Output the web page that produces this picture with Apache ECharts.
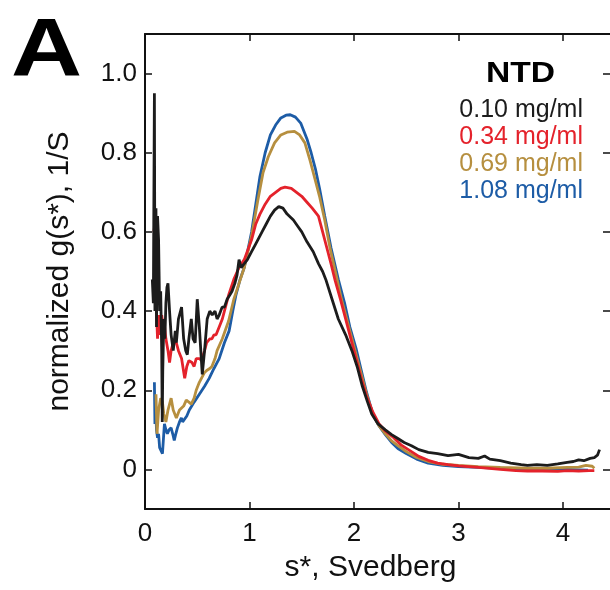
<!DOCTYPE html>
<html>
<head>
<meta charset="utf-8">
<script src="https://cdn.jsdelivr.net/npm/echarts@6/dist/echarts.min.js"></script>
<style>
  html, body { margin: 0; padding: 0; background: #fff; }
  #chartA { width: 610px; height: 590px; }
</style>
</head>
<body>
<div id="chartA"></div>
<script>
// tick positions
var xTicks = [0, 1, 2, 3, 4];
var yTicks = [0, 0.2, 0.4, 0.6, 0.8, 1.0];

var seriesNames = ['0.10 mg/ml', '0.34 mg/ml', '0.69 mg/ml', '1.08 mg/ml'];
var seriesColors = ['#1c1c1c', '#e4222b', '#b68f3f', '#1d5ca6'];

// 0.10 mg/ml (black)
var s010 = [0.07,0.08,0.09,0.095,0.10,0.105,0.11,0.12,0.13,0.14,0.15,0.16,0.165,0.17,0.18,0.19,0.20,0.21,0.22,0.235,
  0.25,0.27,0.29,0.30,0.32,0.35,0.37,0.39,0.405,0.42,0.443,0.46,0.48,0.50,0.52,0.548,0.57,0.595,0.62,0.643,
  0.67,0.69,0.71,0.738,0.76,0.786,0.81,0.833,0.86,0.88,0.90,0.92,0.95,0.98,1.02,1.06,1.12,1.16,1.20,1.24,
  1.28,1.32,1.36,1.42,1.46,1.50,1.55,1.61,1.66,1.70,1.73,1.79,1.85,1.92,1.98,2.03,2.08,2.13,2.17,2.23,
  2.30,2.36,2.42,2.48,2.55,2.62,2.71,2.80,2.90,3.00,3.10,3.19,3.25,3.30,3.40,3.50,3.60,3.66,3.75,3.85,
  3.95,4.04,4.10,4.15,4.20,4.26,4.30,4.33,4.35];
var g010 = [0.48,0.42,0.95,0.40,0.62,0.66,0.36,0.64,0.58,0.40,0.45,0.30,0.12,0.25,0.38,0.33,0.42,0.46,0.47,0.40,
  0.34,0.30,0.35,0.32,0.38,0.41,0.33,0.30,0.29,0.33,0.38,0.33,0.32,0.43,0.36,0.24,0.30,0.38,0.40,0.39,
  0.40,0.38,0.39,0.41,0.41,0.43,0.44,0.45,0.47,0.49,0.53,0.51,0.52,0.53,0.55,0.57,0.60,0.62,0.64,0.655,
  0.664,0.66,0.645,0.63,0.615,0.60,0.575,0.55,0.52,0.50,0.48,0.43,0.38,0.34,0.30,0.26,0.21,0.17,0.14,0.115,
  0.10,0.088,0.078,0.068,0.060,0.050,0.043,0.040,0.035,0.038,0.030,0.028,0.034,0.026,0.022,0.016,0.012,0.010,0.012,0.010,
  0.014,0.018,0.020,0.024,0.022,0.028,0.030,0.036,0.050];

// 0.34 mg/ml (red)
var s034 = [0.085,0.09,0.095,0.10,0.105,0.11,0.12,0.13,0.14,0.15,0.16,0.17,0.18,0.20,0.22,0.235,0.25,0.27,0.30,0.32,
  0.35,0.38,0.40,0.42,0.45,0.47,0.49,0.52,0.54,0.57,0.59,0.62,0.64,0.66,0.68,0.71,0.74,0.77,0.80,0.85,
  0.90,0.95,1.02,1.06,1.10,1.15,1.20,1.25,1.30,1.34,1.40,1.45,1.50,1.55,1.60,1.66,1.70,1.74,1.78,1.82,
  1.87,1.92,1.97,2.02,2.07,2.12,2.18,2.24,2.30,2.38,2.45,2.55,2.62,2.71,2.80,2.90,3.00,3.19,3.40,3.55,
  3.66,3.80,3.95,4.04,4.15,4.25,4.30];
var g034 = [0.60,0.61,0.50,0.58,0.45,0.40,0.33,0.39,0.34,0.38,0.39,0.36,0.38,0.33,0.30,0.27,0.30,0.32,0.32,0.30,
  0.28,0.23,0.26,0.275,0.27,0.26,0.28,0.28,0.275,0.30,0.32,0.33,0.33,0.34,0.34,0.36,0.38,0.41,0.44,0.48,
  0.51,0.53,0.58,0.62,0.645,0.67,0.69,0.70,0.71,0.713,0.71,0.70,0.69,0.675,0.66,0.64,0.60,0.56,0.52,0.477,
  0.43,0.38,0.33,0.28,0.23,0.185,0.145,0.115,0.097,0.080,0.062,0.045,0.033,0.023,0.016,0.012,0.009,0.005,0.000,-0.003,
  -0.004,-0.004,-0.005,-0.003,-0.004,-0.003,-0.003];

// 0.69 mg/ml (gold)
var s069 = [0.105,0.11,0.115,0.13,0.15,0.167,0.18,0.20,0.22,0.25,0.27,0.30,0.33,0.35,0.37,0.395,0.42,0.443,0.47,0.49,
  0.52,0.54,0.57,0.59,0.62,0.64,0.67,0.69,0.74,0.80,0.85,0.90,0.95,1.02,1.08,1.13,1.18,1.24,1.30,1.36,
  1.43,1.48,1.53,1.58,1.62,1.67,1.72,1.77,1.83,1.88,1.94,2.00,2.06,2.12,2.18,2.24,2.30,2.36,2.42,2.50,
  2.60,2.71,2.85,3.00,3.19,3.40,3.66,3.85,4.04,4.15,4.22,4.28,4.30];
var g069 = [0.19,0.14,0.09,0.15,0.18,0.17,0.14,0.12,0.15,0.18,0.15,0.13,0.15,0.155,0.16,0.175,0.17,0.165,0.18,0.20,
  0.22,0.23,0.245,0.25,0.255,0.26,0.28,0.30,0.33,0.375,0.43,0.47,0.51,0.59,0.68,0.75,0.79,0.825,0.845,0.852,
  0.854,0.845,0.825,0.78,0.74,0.69,0.63,0.56,0.49,0.43,0.37,0.31,0.25,0.19,0.14,0.11,0.09,0.072,0.060,0.045,
  0.030,0.020,0.013,0.010,0.007,0.005,0.003,0.003,0.005,0.006,0.010,0.008,0.003];

// 1.08 mg/ml (blue)
var s108 = [0.09,0.095,0.10,0.11,0.12,0.13,0.14,0.155,0.167,0.186,0.20,0.214,0.23,0.25,0.265,0.28,0.295,0.31,0.33,0.348,
  0.36,0.376,0.40,0.424,0.47,0.52,0.57,0.614,0.66,0.71,0.76,0.805,0.84,0.87,0.91,0.95,1.02,1.06,1.10,1.15,
  1.20,1.25,1.30,1.35,1.39,1.44,1.49,1.55,1.59,1.63,1.67,1.72,1.78,1.85,1.91,1.96,2.02,2.07,2.12,2.18,
  2.24,2.30,2.36,2.42,2.50,2.60,2.71,2.85,3.00,3.19,3.40,3.66,3.85,4.04,4.15,4.24];
var g108 = [0.22,0.115,0.17,0.10,0.08,0.09,0.055,0.05,0.04,0.115,0.10,0.09,0.10,0.105,0.09,0.073,0.09,0.105,0.12,0.13,
  0.12,0.115,0.135,0.15,0.17,0.19,0.21,0.23,0.255,0.28,0.32,0.35,0.40,0.44,0.48,0.51,0.60,0.67,0.74,0.80,
  0.845,0.87,0.888,0.895,0.896,0.89,0.875,0.835,0.80,0.76,0.71,0.64,0.56,0.48,0.42,0.36,0.305,0.25,0.195,0.14,
  0.11,0.088,0.068,0.053,0.040,0.026,0.016,0.010,0.007,0.005,0.003,0.000,0.000,0.000,-0.001,-0.002];

function pairs(xs, ys) {
  var out = [];
  for (var i = 0; i < xs.length; i++) {
    out.push([xs[i], ys[i]]);
  }
  return out;
}

var chartA = echarts.init(document.getElementById('chartA'), null, { renderer: 'canvas' });
var FONT = 'Liberation Sans, Arial, Helvetica, sans-serif';

function lineSeries(idx, xs, ys) {
  return {
    name: seriesNames[idx],
    type: 'line',
    data: pairs(xs, ys),
    showSymbol: false,
    symbol: 'none',
    smooth: false,
    lineStyle: { color: seriesColors[idx], width: 2.8 },
    itemStyle: { color: seriesColors[idx] }
  };
}

var axisLine = { show: true, onZero: false, lineStyle: { color: '#111', width: 2 } };
var tickStyle = { color: '#111', width: 1.5 };

chartA.setOption({
  animation: false,
  backgroundColor: '#fff',
  graphic: [
    {
      type: 'text', left: 11, top: 11, scaleX: 1.2,
      style: { text: 'A', font: 'bold 82px ' + FONT, fill: '#000' }
    },
    {
      type: 'text', left: 486, top: 59, scaleX: 1.12,
      style: { text: 'NTD', font: 'bold 30px ' + FONT, fill: '#000' }
    }
  ],
  legend: {
    data: seriesNames.map(function (n, i) {
      return { name: n, textStyle: { color: seriesColors[i] } };
    }),
    orient: 'vertical',
    right: 22,
    top: 93,
    icon: 'none',
    itemWidth: 0,
    itemHeight: 0,
    itemGap: 2,
    textStyle: { fontSize: 25, fontFamily: FONT, lineHeight: 25 },
    selectedMode: false
  },
  grid: { left: 145, right: -3, top: 34, bottom: 81 },
  xAxis: [
    {
      type: 'value', position: 'bottom', min: 0, max: 4.45,
      name: 's*, Svedberg', nameLocation: 'middle', nameGap: 44,
      nameTextStyle: { fontSize: 30, fontFamily: FONT, color: '#111', padding: [0, 14, 0, 0] },
      axisLine: axisLine,
      axisTick: { show: true, inside: true, length: 7, lineStyle: tickStyle, customValues: xTicks },
      axisLabel: { show: true, fontSize: 26, fontFamily: FONT, color: '#111', margin: 12, customValues: xTicks },
      splitLine: { show: false }
    },
    {
      type: 'value', position: 'top', min: 0, max: 4.45,
      axisLine: axisLine,
      axisTick: { show: true, inside: true, length: 7, lineStyle: tickStyle, customValues: xTicks },
      axisLabel: { show: false },
      splitLine: { show: false }
    }
  ],
  yAxis: [
    {
      type: 'value', position: 'left', min: -0.1, max: 1.1,
      name: 'normalized g(s*), 1/S', nameLocation: 'middle', nameGap: 70,
      nameTextStyle: { fontSize: 30, fontFamily: FONT, color: '#111' },
      axisLine: axisLine,
      axisTick: { show: true, inside: true, length: 7, lineStyle: tickStyle, customValues: yTicks },
      axisLabel: {
        show: true, fontSize: 26, fontFamily: FONT, color: '#111', margin: 8, customValues: yTicks,
        formatter: function (v) { return v === 0 ? '0' : v.toFixed(1); }
      },
      splitLine: { show: false }
    },
    {
      type: 'value', position: 'right', min: -0.1, max: 1.1,
      axisLine: { show: false, onZero: false },
      axisTick: { show: true, inside: true, length: 7, lineStyle: tickStyle, customValues: yTicks },
      axisLabel: { show: false },
      splitLine: { show: false }
    }
  ],
  series: [
    lineSeries(3, s108, g108),
    lineSeries(2, s069, g069),
    lineSeries(1, s034, g034),
    lineSeries(0, s010, g010)
  ]
});
</script>
</body>
</html>
